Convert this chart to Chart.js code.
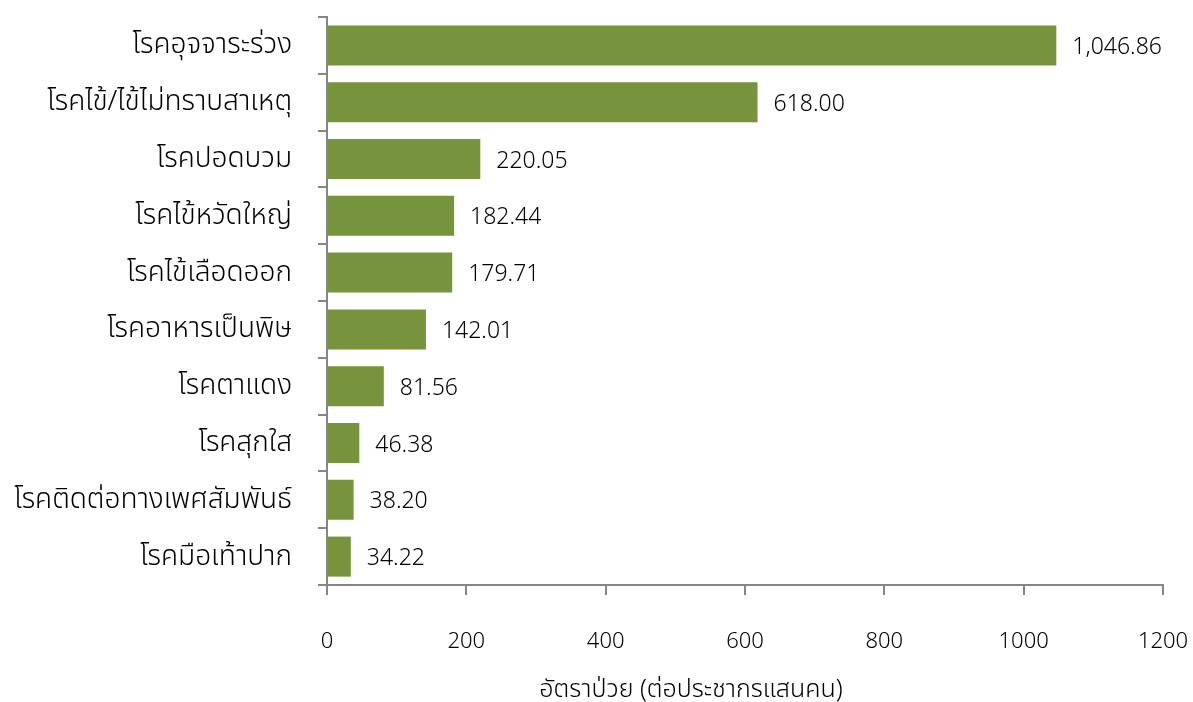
<!DOCTYPE html>
<html><head><meta charset="utf-8">
<script src="https://cdn.jsdelivr.net/npm/chart.js@4"></script>
<style>html,body{margin:0;padding:0;background:#fff}#wrap{width:1193px;height:702px}</style>
</head><body><div id="wrap"><canvas id="c"></canvas></div>
<script>
const categories = ["โรคอุจจาระร่วง","โรคไข้/ไข้ไม่ทราบสาเหตุ","โรคปอดบวม","โรคไข้หวัดใหญ่","โรคไข้เลือดออก","โรคอาหารเป็นพิษ","โรคตาแดง","โรคสุกใส","โรคติดต่อทางเพศสัมพันธ์","โรคมือเท้าปาก"];
const values = [1046.86,618.00,220.05,182.44,179.71,142.01,81.56,46.38,38.20,34.22];
const xTicks = [0,200,400,600,800,1000,1200];
const xTitle = "อัตราป่วย (ต่อประชากรแสนคน)";
const FONT = "'Noto Sans', 'Noto Sans Thai', sans-serif";

const labelPlugin = {
  id: 'vals',
  afterDatasetsDraw(chart){
    const ctx = chart.ctx;
    const meta = chart.getDatasetMeta(0);
    ctx.save();
    ctx.font = "300 23px " + FONT;
    ctx.fillStyle = "#000";
    ctx.textBaseline = "middle";
    ctx.textAlign = "left";
    meta.data.forEach((bar,i)=>{
      const s = values[i].toLocaleString('en-US',{minimumFractionDigits:2,maximumFractionDigits:2});
      ctx.fillText(s, bar.x + 16, bar.y + 2);
    });
    // axis title
    ctx.font = "300 25px " + FONT;
    ctx.textAlign = "center";
    ctx.fillText(xTitle, 691, 690);
    ctx.restore();
  }
};

new Chart(document.getElementById('c'), {
  type: 'bar',
  data: { labels: categories, datasets: [{ data: values, backgroundColor: '#77933C', borderWidth: 0, barPercentage: 0.705, categoryPercentage: 1 }] },
  options: {
    indexAxis: 'y', responsive: true, maintainAspectRatio: false, animation: false,
    devicePixelRatio: 1,
    layout: { padding: { top: 17, right: 30, bottom: 0, left: 0 } },
    plugins: { legend: { display: false }, tooltip: { enabled: false } },
    scales: {
      x: {
        min: 0, max: 1200,
        afterBuildTicks(scale){ scale.ticks = xTicks.map(v=>({value:v})); },
        afterFit(scale){ scale.height = 117; scale.paddingLeft = 0; scale.paddingRight = 0; },
        border: { color: '#868686', width: 2 },
        grid: { drawOnChartArea: false, drawTicks: true, tickLength: 10, color: '#868686', lineWidth: 2 },
        ticks: { color: '#000', font: { size: 22, weight: '300', family: FONT }, padding: 34, callback: (v)=>String(v) }
      },
      y: {
        afterFit(scale){ scale.width = 327; scale.paddingTop = 0; scale.paddingBottom = 0; },
        border: { color: '#868686', width: 2 },
        grid: { drawOnChartArea: false, drawTicks: true, tickLength: 9, color: '#868686', lineWidth: 2, offset: true },
        ticks: { color: '#000', font: { size: 28, weight: '300', family: FONT }, padding: 26 }
      }
    }
  },
  plugins: [labelPlugin]
});
</script></body></html>
